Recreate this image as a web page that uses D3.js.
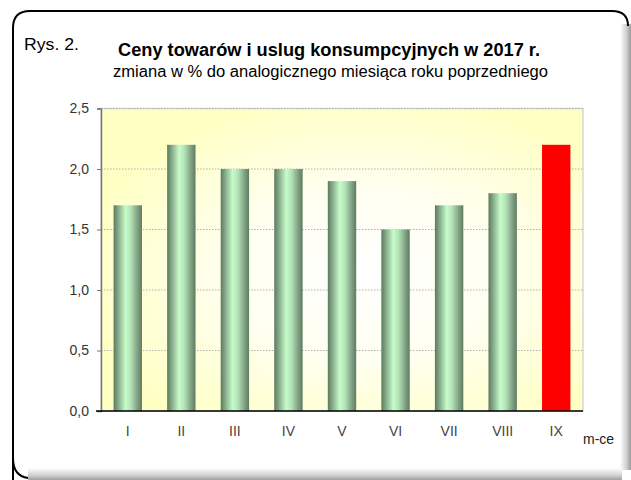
<!DOCTYPE html>
<html>
<head>
<meta charset="utf-8">
<script src="https://cdn.jsdelivr.net/npm/d3@7"></script>
<style>
  body { margin: 0; background: #fff; }
  svg text { font-family: "Liberation Sans Narrow", "Arial Narrow", "Liberation Sans", Arial, sans-serif; }
</style>
</head>
<body>
<svg id="chart" width="631" height="480"></svg>
<script>
var months = ["I", "II", "III", "IV", "V", "VI", "VII", "VIII", "IX"];
var values = [1.7, 2.2, 2.0, 2.0, 1.9, 1.5, 1.7, 1.8, 2.2];
var y_ticks = [0, 0.5, 1.0, 1.5, 2.0, 2.5];
var highlight_month = "IX";

var svg = d3.select("#chart");
var defs = svg.append("defs");

// frame shadow gradients
var shade_r = defs.append("linearGradient").attr("id", "shade_r").attr("x1", 0).attr("x2", 1).attr("y1", 0).attr("y2", 0);
shade_r.append("stop").attr("offset", "0%").attr("stop-color", "#ffffff");
shade_r.append("stop").attr("offset", "60%").attr("stop-color", "#cfcfcf");
shade_r.append("stop").attr("offset", "100%").attr("stop-color", "#9a9a9a");
var shade_b = defs.append("linearGradient").attr("id", "shade_b").attr("x1", 0).attr("x2", 0).attr("y1", 0).attr("y2", 1);
shade_b.append("stop").attr("offset", "0%").attr("stop-color", "#ffffff");
shade_b.append("stop").attr("offset", "60%").attr("stop-color", "#d2d2d2");
shade_b.append("stop").attr("offset", "100%").attr("stop-color", "#a0a0a0");

// plot background: whiter in the middle, yellow at the edges
var bg = defs.append("radialGradient").attr("id", "plot_bg").attr("cx", "55%").attr("cy", "55%").attr("r", "60%");
bg.append("stop").attr("offset", "0%").attr("stop-color", "#ffffff");
bg.append("stop").attr("offset", "45%").attr("stop-color", "#fffff2");
bg.append("stop").attr("offset", "100%").attr("stop-color", "#ffffc4");

// cylinder look for the bars
var bar_grad = defs.append("linearGradient").attr("id", "bar_grad").attr("x1", 0).attr("x2", 1).attr("y1", 0).attr("y2", 0);
bar_grad.append("stop").attr("offset", "0%").attr("stop-color", "#5c7a5e");
bar_grad.append("stop").attr("offset", "20%").attr("stop-color", "#8fb693");
bar_grad.append("stop").attr("offset", "42%").attr("stop-color", "#c6fcca");
bar_grad.append("stop").attr("offset", "60%").attr("stop-color", "#b4e4b8");
bar_grad.append("stop").attr("offset", "85%").attr("stop-color", "#7f9f82");
bar_grad.append("stop").attr("offset", "100%").attr("stop-color", "#5e7c60");

// outer frame
svg.append("rect").attr("x", 620).attr("y", 24).attr("width", 11).attr("height", 446).attr("fill", "url(#shade_r)");
svg.append("rect").attr("x", 28).attr("y", 468).attr("width", 594).attr("height", 12).attr("fill", "url(#shade_b)");
svg.append("path")
  .attr("d", "M13,480 L13,28 Q13,11 30,11 L612,11 Q628,11 628,26")
  .attr("fill", "none").attr("stroke", "#000").attr("stroke-width", 2);
svg.append("path")
  .attr("d", "M13,458 Q13,476 28,478")
  .attr("fill", "none").attr("stroke", "#000").attr("stroke-width", 2);

// titles
svg.append("text").attr("x", 24).attr("y", 50).attr("font-size", 16).attr("fill", "#000")
  .attr("textLength", 55).attr("lengthAdjust", "spacingAndGlyphs").text("Rys. 2.");
svg.append("text").attr("x", 118).attr("y", 56).attr("font-size", 18).attr("font-weight", "bold").attr("fill", "#000")
  .attr("textLength", 422).attr("lengthAdjust", "spacingAndGlyphs").text("Ceny towarów i uslug konsumpcyjnych w 2017 r.");
svg.append("text").attr("x", 113).attr("y", 77).attr("font-size", 16).attr("fill", "#000")
  .attr("textLength", 435).attr("lengthAdjust", "spacingAndGlyphs").text("zmiana w % do analogicznego miesiąca roku poprzedniego");

var plot = { left: 101, right: 583, top: 108.5, bottom: 411 };

var x = d3.scaleBand().domain(months).range([plot.left, plot.right]).paddingInner(0.47).paddingOuter(0.235);
var y = d3.scaleLinear().domain([0, 2.5]).range([plot.bottom, plot.top]);

svg.append("rect")
  .attr("x", plot.left).attr("y", plot.top)
  .attr("width", plot.right - plot.left).attr("height", plot.bottom - plot.top)
  .attr("fill", "url(#plot_bg)").attr("stroke", "#d8d8d8").attr("stroke-width", 1.5);

// grid lines
svg.append("g").selectAll("line").data(y_ticks.filter(function (d) { return d > 0; }))
  .enter().append("line")
  .attr("x1", plot.left).attr("x2", plot.right)
  .attr("y1", function (d) { return y(d); }).attr("y2", function (d) { return y(d); })
  .attr("stroke", "#b0b0b0").attr("stroke-width", 1).attr("stroke-dasharray", "1.5,1.5");

// bars
svg.append("g").selectAll("rect").data(values)
  .enter().append("rect")
  .attr("x", function (d, i) { return x(months[i]); })
  .attr("y", function (d) { return y(d); })
  .attr("width", x.bandwidth())
  .attr("height", function (d) { return plot.bottom - y(d); })
  .attr("fill", function (d, i) { return months[i] == highlight_month ? "#ff0000" : "url(#bar_grad)"; });

// y axis
var y_axis = svg.append("g").attr("transform", "translate(" + plot.left + ",0)")
  .call(d3.axisLeft(y).tickValues(y_ticks).tickSize(4).tickPadding(8)
    .tickFormat(function (d) { return d3.format(".1f")(d).replace(".", ","); }));
y_axis.select(".domain").attr("stroke", "#777").attr("stroke-width", 1.5);
y_axis.selectAll(".tick line").attr("stroke", "#777");
y_axis.selectAll("text").attr("font-size", 14).attr("fill", "#333")
  .attr("font-family", "'Liberation Sans', Arial, sans-serif");

// x axis
var x_axis = svg.append("g").attr("transform", "translate(0," + plot.bottom + ")")
  .call(d3.axisBottom(x).tickSize(0).tickPadding(15));
x_axis.select(".domain").attr("d", "M" + (plot.left - 5) + ",0H" + plot.right).attr("stroke", "#000").attr("stroke-width", 1.5);
x_axis.selectAll("text").attr("font-size", 14).attr("fill", "#444")
  .attr("font-family", "'Liberation Sans', Arial, sans-serif");

svg.append("text").attr("x", 583).attr("y", 444).attr("font-size", 14).attr("fill", "#222")
  .attr("font-family", "'Liberation Sans', Arial, sans-serif").text("m-ce");
</script>
</body>
</html>
